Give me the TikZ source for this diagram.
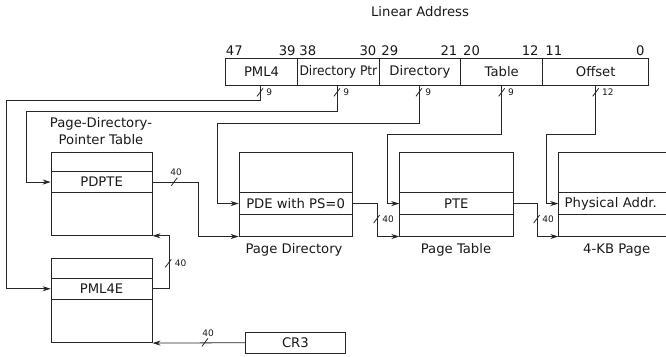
\documentclass[tikz,border=0pt]{standalone}
\usepackage{fontspec}
\setmainfont{DejaVu Sans}
\usetikzlibrary{arrows.meta}
\begin{document}
\begin{tikzpicture}[x=1pt,y=-1pt, line width=0.8pt, draw=black!85,
  every node/.style={font=\fontsize{13.2}{15}\selectfont, inner sep=0pt, text=black!90},
  field/.style={draw, minimum height=27.3pt, anchor=north west},
  cell/.style={draw, anchor=north west},
  lbl/.style={font=\fontsize{9}{10}\selectfont},
  arr/.style={-{Stealth[length=8pt,width=5pt,inset=2.5pt]}},
  pics/busslash/.style={code={\draw (-3,4) -- (3,-4);}}
  ]
\useasboundingbox (0,0) rectangle (666,356);
\clip (0,0) rectangle (666,356);

% Linear address
\node (title) at (420,12) {Linear Address};
\node[field, minimum width=72.3pt] (f1) at (225,57.7) {PML4};
\node[field, minimum width=81.4pt] (f2) at (297.3,57.7) {\scalebox{0.93}[1]{Directory Ptr}};
\node[field, minimum width=81.6pt] (f3) at (378.7,57.7) {Directory};
\node[field, minimum width=82pt] (f4) at (460.3,57.7) {Table};
\node[field, minimum width=106pt] (f5) at (542.3,57.7) {Offset};

\node[anchor=base west] (b47) at (225.5,55) {47};
\node[anchor=base east] (b39) at (296,55) {39};
\node[anchor=base west] (b38) at (299,55) {38};
\node[anchor=base east] (b30) at (376.7,55) {30};
\node[anchor=base west] (b29) at (381,55) {29};
\node[anchor=base east] (b21) at (457.7,55) {21};
\node[anchor=base west] (b20) at (462.7,55) {20};
\node[anchor=base east] (b12) at (539,55) {12};
\node[anchor=base west] (b11) at (545,55) {11};
\node[anchor=base east] (b0) at (645,55) {0};

% Page-Directory-Pointer Table
\node[align=center, font=\fontsize{13.2}{17}\selectfont] (pdptlbl) at (101,131) {Page-Directory-\\Pointer Table};
\node[cell, minimum width=101pt, minimum height=19.3pt] (pdpt1) at (50.7,151.7) {};
\node[cell, minimum width=101pt, minimum height=21.3pt] (pdpte) at (50.7,171) {PDPTE};
\node[cell, minimum width=101pt, minimum height=42.7pt] (pdpt3) at (50.7,192.3) {};

% Page Directory
\node[cell, minimum width=113pt, minimum height=40.6pt] (pd1) at (238.7,151.7) {};
\node[cell, minimum width=113pt, minimum height=21.7pt] (pde) at (238.7,192.3) {PDE with PS=0};
\node[cell, minimum width=113pt, minimum height=21.7pt] (pd3) at (238.7,214) {};
\node (pdlbl) at (294,250.3) {Page Directory};

% Page Table
\node[cell, minimum width=113.4pt, minimum height=40.6pt] (pt1) at (399.3,151.7) {};
\node[cell, minimum width=113.4pt, minimum height=21.7pt] (pte) at (399.3,192.3) {PTE};
\node[cell, minimum width=113.4pt, minimum height=21.7pt] (pt3) at (399.3,214) {};
\node (ptlbl) at (456,250.3) {Page Table};

% 4-KB Page
\node[cell, minimum width=120pt, minimum height=40.6pt] (pg1) at (558.3,151.7) {};
\node[cell, minimum width=120pt, minimum height=21.7pt, text width=114pt, align=left] (phys) at (558.3,192.3) {\hspace*{3pt}Physical Addr.};
\node[cell, minimum width=120pt, minimum height=21.7pt] (pg3) at (558.3,214) {};
\node (pglbl) at (616.7,250.3) {4-KB Page};

% PML4 table
\node[cell, minimum width=101pt, minimum height=19.4pt] (pml41) at (50.7,258.3) {};
\node[cell, minimum width=101pt, minimum height=21.3pt] (pml4e) at (50.7,277.7) {PML4E};
\node[cell, minimum width=101pt, minimum height=43.3pt] (pml43) at (50.7,299) {};

% CR3
\node[cell, minimum width=100pt, minimum height=21pt] (cr3) at (245,331.8) {CR3};

% address connectors
\coordinate (t1) at (6.7,100);
\coordinate (t2) at (26,111.7);
\coordinate (t3) at (217.3,123.3);
\coordinate (t4) at (387,134.3);
\coordinate (t5) at (546,134.3);
\draw[arr] ([xshift=-1.5pt]f1.south) |- (t1) |- (pml4e.west);
\draw[arr] ([xshift=-1.5pt]f2.south) |- (t2) |- (pdpte.west);
\draw[arr] ([xshift=-1pt]f3.south) |- (t3) |- (pde.west);
\draw[arr] (f4.south) |- (t4) |- (pte.west);
\draw[arr] (f5.south) |- (t5) |- (phys.west);

\pic at ([xshift=-1.5pt,yshift=-6.5pt]f1.south) {busslash};
\pic at ([xshift=-1.5pt,yshift=-6.5pt]f2.south) {busslash};
\pic at ([xshift=-1pt,yshift=-6.5pt]f3.south) {busslash};
\pic at ([yshift=-6.5pt]f4.south) {busslash};
\pic at ([yshift=-6.5pt]f5.south) {busslash};
\node[lbl, anchor=west] (n1) at ([xshift=4.5pt,yshift=-6pt]f1.south) {9};
\node[lbl, anchor=west] (n2) at ([xshift=4.5pt,yshift=-6pt]f2.south) {9};
\node[lbl, anchor=west] (n3) at ([xshift=5pt,yshift=-6pt]f3.south) {9};
\node[lbl, anchor=west] (n4) at ([xshift=6pt,yshift=-6pt]f4.south) {9};
\node[lbl, anchor=west] (n5) at ([xshift=6pt,yshift=-6pt]f5.south) {12};

% table to table connectors
\draw[arr] (pdpte.east) -- ++(46,0) |- (pd3.south west);
\draw[arr] (pde.east) -- ++(25,0) |- (pt3.south west);
\draw[arr] (pte.east) -- ++(24,0) |- (pg3.south west);
\draw[arr] (pml4e.east) -- ++(16.6,0) |- (pdpt3.south east);
\draw[arr] (cr3.west) -- (pml43.south east);

\pic at (174.3,181.7) {busslash};
\node[lbl] (w1) at (176,172.5) {40};
\pic at (376.7,219) {busslash};
\node[lbl] (w2) at (388,219) {40};
\pic at (536.7,219) {busslash};
\node[lbl] (w3) at (548,219) {40};
\pic at (168.3,263.3) {busslash};
\node[lbl] (w4) at (180.5,263.3) {40};
\pic at (205,342.3) {busslash};
\node[lbl] (w5) at (208,333.3) {40};
\end{tikzpicture}
\end{document}
